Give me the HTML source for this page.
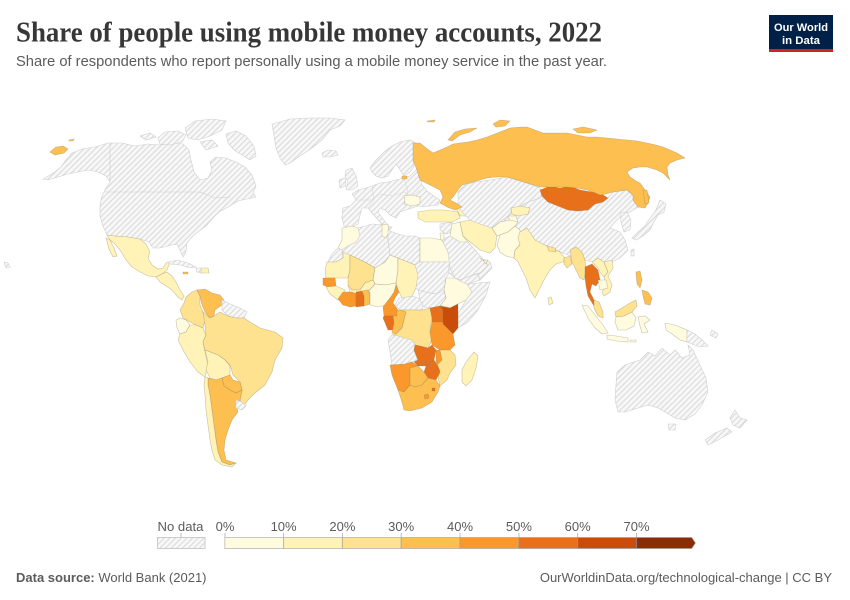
<!DOCTYPE html>
<html><head><meta charset="utf-8"><style>
html,body{margin:0;padding:0;background:#fff;width:850px;height:600px;overflow:hidden}
svg{display:block}
text{font-family:"Liberation Sans",sans-serif}
.nd{fill:url(#h);stroke:#cfcfcf;stroke-width:.6}
.c{stroke:#8a7a60;stroke-opacity:.45;stroke-width:.6}
.c0{fill:#fffbdf}.c1{fill:#fff3b8}.c2{fill:#fee28f}.c3{fill:#fdbf4f}.c4{fill:#fb982b}.c5{fill:#e8701a}.c6{fill:#c94c08}.c7{fill:#8b2c05}
</style></head><body>
<svg width="850" height="600" viewBox="0 0 850 600" xmlns="http://www.w3.org/2000/svg">
<defs>
<pattern id="h" width="4" height="4" patternUnits="userSpaceOnUse" patternTransform="rotate(45)">
<rect width="4" height="4" fill="#f8f8f8"/><line x1="0.5" y1="0" x2="0.5" y2="4" stroke="#dcdcdc" stroke-width="1.4"/>
</pattern>
</defs>
<rect width="850" height="600" fill="#fff"/>

<!-- Header -->
<text x="16" y="41.5" textLength="586" lengthAdjust="spacingAndGlyphs" style="font-family:'Liberation Serif',serif;font-size:28px;font-weight:bold;fill:#373737">Share of people using mobile money accounts, 2022</text>
<text x="16" y="66" textLength="591" lengthAdjust="spacingAndGlyphs" style="font-size:14.5px;fill:#5b5b5b">Share of respondents who report personally using a mobile money service in the past year.</text>
<rect x="769" y="15" width="64" height="37" fill="#002147"/>
<rect x="769" y="49" width="64" height="3" fill="#ce261e"/>
<text x="801" y="31" text-anchor="middle" style="font-size:11px;fill:#fff;font-weight:bold" textLength="54" lengthAdjust="spacingAndGlyphs">Our World</text>
<text x="801" y="44" text-anchor="middle" style="font-size:11px;fill:#fff;font-weight:bold" textLength="38" lengthAdjust="spacingAndGlyphs">in Data</text>

<!-- ===== MAP ===== -->
<!-- North America -->
<polygon class="nd" points="43,179 52,174 60,168 66,160 72,153 82,149 95,147 108,143 122,143 135,146 148,144 160,145 172,143 183,144 189,150 191,160 194,172 200,180 208,178 212,170 210,162 216,157 226,158 236,162 245,167 252,175 256,186 253,193 256,197 247,199 238,201 228,207 219,212 212,219 206,226 199,231 192,237 187,243 186,252 183,257 180,250 177,244 168,246 160,248 153,248 149,242 140,239 128,237 115,236 107,235 103,226 100,216 100,205 102,196 106,188 110,182 106,176 98,172 88,170 78,172 68,174 58,177 48,180"/>
<polyline points="104,192 200,192 215,198 230,197" fill="none" stroke="#cfcfcf" stroke-width=".6"/>
<polyline points="110,143 110,182" fill="none" stroke="#cfcfcf" stroke-width=".6"/>
<polygon class="nd" points="158,138 165,132 178,131 186,135 182,142 170,145 160,144"/>
<polygon class="nd" points="185,128 195,121 212,119 226,121 222,130 210,136 198,140 188,138"/>
<polygon class="nd" points="226,134 236,131 246,136 254,146 256,156 250,160 242,155 234,150 228,143"/>
<polygon class="nd" points="200,142 212,140 218,146 206,150"/>
<polygon class="nd" points="140,136 150,133 156,137 146,140"/>
<!-- Greenland / Iceland -->
<polygon class="nd" points="272,124 290,119 310,118 330,118 345,120 340,126 330,130 322,140 312,148 300,156 290,163 285,165 280,158 276,148 274,136"/>
<polygon class="nd" points="322,153 328,150 336,151 338,155 330,157 323,157"/>
<!-- Chukotka on left -->
<polygon class="c c3" points="50,152 56,147 63,146 68,149 64,153 55,155"/>
<polygon class="c c3" points="69,140 74,139 73,141 69,141"/>
<!-- Hawaii -->
<polygon class="nd" points="4,262 8,263 10,267 6,268"/>
<!-- Mexico & Central America -->
<polygon class="c c1" points="107,235 115,236 128,237 140,239 146,244 150,252 148,258 152,265 158,269 163,268 166,263 170,262 167,270 162,274 156,277 148,276 140,272 132,267 126,260 120,250 114,243 110,240"/>
<polygon class="c c1" points="106,238 110,240 114,248 117,256 113,257 109,249"/>
<polygon class="c c1" points="156,277 162,274 167,272 172,276 176,282 180,290 184,296 182,300 178,297 172,290 166,286 160,282"/>
<!-- Caribbean -->
<polygon class="nd" points="168,262 178,260 188,263 196,267 190,268 180,265 170,264"/>
<polygon class="c c1" points="201,268 208,268 209,273 201,273"/>
<polygon class="nd" points="196,268 201,268 201,273 197,272"/>
<polygon class="c c3" points="183,272 188,272 188,274 183,274"/>
<!-- South America -->
<polygon class="c c2" points="186,297 192,292 197,290 200,296 200,305 203,312 205,320 203,328 196,325 190,322 183,318 180,310 184,303"/>
<polygon class="c c3" points="197,290 205,289 212,293 220,295 224,300 222,305 215,310 214,316 210,318 205,312 202,305 200,296"/>
<polygon class="nd" points="222,300 230,304 238,307 247,312 244,318 236,318 228,316 222,310 222,305"/>
<polygon class="c c0" points="176,320 180,318 186,320 190,325 186,332 180,334 177,328"/>
<polygon class="c c1" points="186,332 190,325 196,325 203,328 206,335 203,342 205,352 208,365 205,377 198,372 190,362 183,350 178,340 180,334"/>
<polygon class="c c2" points="203,312 210,318 214,316 220,312 228,316 236,318 244,318 250,322 260,328 275,332 283,338 282,348 275,360 272,372 265,385 255,393 248,400 244,406 240,400 242,390 240,382 233,375 230,365 225,360 218,355 210,352 205,350 203,342 206,335 205,325"/>
<polygon class="c c1" points="205,350 210,352 218,355 225,360 230,366 230,375 222,378 216,380 210,378 206,370 208,362"/>
<polygon class="c c3" points="222,378 230,375 233,380 240,382 242,390 236,393 230,390 224,386"/>
<polygon class="c c3" points="208,378 216,380 222,378 224,386 230,390 236,393 242,390 240,400 236,405 238,412 232,420 228,430 225,440 224,450 226,460 236,463 230,465 222,462 218,452 216,440 214,425 212,410 210,395 208,385"/>
<polygon class="c c1" points="205,377 208,378 208,385 210,395 212,410 214,425 216,440 218,452 222,462 230,465 236,463 232,467 222,465 215,460 212,450 210,440 208,425 206,410 205,395 204,385"/>
<polygon class="nd" points="236,400 242,402 246,406 242,410 236,408"/>

<!-- Europe -->
<polygon class="nd" points="343,208 350,206 356,200 352,194 358,190 366,188 372,186 380,183 388,182 396,180 404,178 410,176 416,170 418,165 420,175 422,185 428,192 435,197 440,200 438,205 430,206 424,207 418,206 412,208 406,210 400,212 396,218 390,215 385,210 380,208 378,212 384,220 388,226 385,228 380,222 372,213 368,208 362,208 360,215 358,224 350,228 344,226 342,218"/>
<polyline points="356,200 372,200 380,194 392,196 404,192 412,196 420,190" fill="none" stroke="#d4d4d4" stroke-width=".5"/>
<polyline points="372,186 374,200 368,208 M390,182 392,198" fill="none" stroke="#d4d4d4" stroke-width=".5"/>
<polyline points="404,178 408,192 404,205 M360,208 356,200" fill="none" stroke="#d4d4d4" stroke-width=".5"/>
<polygon class="nd" points="370,168 376,160 384,152 392,146 400,142 410,140 416,143 416,150 413,158 414,166 410,172 404,176 400,170 396,164 392,170 388,176 382,178 376,176 372,172"/>
<polygon class="nd" points="346,170 352,168 356,176 358,186 352,190 346,190 348,182 345,176"/>
<polygon class="nd" points="339,180 345,178 346,186 340,188"/>
<polygon class="c c0" points="404,196 412,195 420,197 420,204 412,206 405,204"/>
<polygon class="c c3" points="402,176 407,176 407,179 402,179"/>
<polygon class="nd" points="384,226 392,227 390,230"/>

<!-- Africa -->
<polygon class="c c0" points="342,228 352,226 358,228 360,236 356,242 348,246 342,250 338,248 342,240 342,233"/>
<polygon class="nd" points="338,248 342,250 343,258 336,262 328,262 332,254"/>
<polygon class="c c1" points="327,262 336,262 343,258 343,252 350,255 350,270 348,278 335,278 326,278 325,270"/>
<polygon class="nd" points="358,228 372,224 384,225 388,230 388,240 390,255 385,262 375,268 365,262 350,255 343,252 342,250 348,246 356,242 360,236"/>
<polygon class="c c0" points="382,225 388,224 389,232 386,238 382,236"/>
<polygon class="nd" points="388,230 395,233 405,236 415,236 420,238 420,262 415,265 408,262 398,258 390,255 388,240"/>
<polygon class="c c0" points="420,238 432,238 442,240 448,252 450,262 420,262"/>
<polygon class="c c2" points="350,255 365,262 375,268 373,280 365,283 360,290 352,290 348,285 348,278 350,270"/>
<polygon class="c c0" points="375,268 385,262 390,255 398,258 398,270 396,283 385,285 375,284 373,280"/>
<polygon class="c c1" points="398,258 408,262 415,265 418,275 416,288 412,296 402,298 398,290 396,283 398,270"/>
<polygon class="nd" points="420,262 450,262 452,268 446,278 444,290 436,294 425,292 418,290 416,288 418,275 415,265"/>
<polygon class="nd" points="450,262 456,272 462,280 455,278 448,272"/>
<polygon class="c c4" points="323,278 335,278 336,286 328,287 323,285"/>
<polygon class="c c1" points="326,287 336,286 345,290 345,296 338,300 330,294"/>
<polygon class="c c1" points="348,285 352,290 360,290 365,283 373,280 375,284 368,292 358,294 350,292"/>
<polygon class="c c4" points="343,292 352,292 356,294 356,306 350,307 343,305 338,299"/>
<polygon class="c c5" points="356,292 362,291 364,296 364,306 356,307"/>
<polygon class="c c3" points="362,291 368,290 370,292 370,304 364,306 364,296"/>
<polygon class="c c0" points="368,292 375,284 385,285 396,283 396,292 390,298 386,305 378,307 370,305 370,292"/>
<polygon class="c c4" points="396,285 399,292 395,298 393,303 398,310 397,316 384,316 383,307 386,303 390,298 394,292"/>
<polygon class="nd" points="399,298 402,298 412,296 418,298 424,302 422,310 410,310 400,310 395,305"/>
<polygon class="nd" points="418,290 425,292 436,294 444,290 446,298 440,306 432,308 424,307 420,300"/>
<polygon class="c c0" points="446,278 455,278 462,280 467,284 472,292 466,300 458,304 450,308 444,306 440,306 446,298 444,290"/>
<polygon class="nd" points="467,284 490,282 486,295 478,310 468,322 458,328 458,314 466,300 472,292"/>
<polygon class="c c5" points="384,316 393,316 394,322 394,330 388,330 386,325 383,318"/>
<polygon class="c c3" points="397,310 400,310 406,312 404,320 402,328 396,334 392,333 394,322 393,316 397,316"/>
<polygon class="c c2" points="400,310 410,310 422,310 430,308 432,318 430,328 432,340 428,348 420,346 415,345 412,340 404,338 398,336 392,335 396,334 402,328 404,320 406,312"/>
<polygon class="c c5" points="430,308 440,306 443,310 443,322 432,322 432,318"/>
<polygon class="c c6" points="440,306 450,308 458,304 458,314 458,328 453,334 443,324 443,310"/>
<polygon class="c c4" points="432,322 443,322 443,324 453,334 455,345 450,350 440,350 432,345 430,332"/>
<polygon class="nd" points="392,335 398,336 404,338 412,340 415,345 414,350 418,360 412,362 405,364 392,365 390,352 388,340"/>
<polygon class="c c5" points="415,345 420,346 428,348 432,345 436,350 434,360 426,366 418,366 414,362 418,360 414,350"/>
<polygon class="c c4" points="436,350 440,350 442,360 440,368 436,362"/>
<polygon class="c c2" points="440,350 450,350 455,355 456,365 450,373 447,380 440,386 438,378 440,370 436,366 442,360"/>
<polygon class="c c5" points="426,366 434,360 438,366 440,372 436,380 428,378 424,372"/>
<polygon class="c c4" points="390,365 405,364 412,362 418,366 410,368 410,385 404,392 398,390 392,375"/>
<polygon class="c c3" points="410,368 418,366 424,372 428,378 422,385 415,387 410,385"/>
<polygon class="c c3" points="398,390 404,392 410,385 415,387 422,385 428,378 436,380 440,386 438,392 432,402 422,408 410,411 404,410 402,402"/>
<polygon class="c c4" points="424,395 428,394 429,398 425,399"/>
<polygon class="c c5" points="432,388 435,388 435,391 432,391"/>
<polygon class="c c1" points="474,352 478,356 476,368 472,380 466,386 462,382 462,370 466,362"/>

<!-- Middle East & Central Asia -->
<polygon class="nd" points="440,224 452,222 452,232 446,234 440,230"/>
<polygon class="c c1" points="418,212 430,210 445,210 458,212 460,218 452,222 438,222 425,222 418,218"/>
<polygon class="c c1" points="456,208 464,207 470,212 468,216 460,216"/>
<polygon class="c c0" points="452,224 460,222 463,236 468,242 460,242 450,236"/>
<polygon class="c c1" points="460,222 470,220 480,224 492,228 497,236 495,248 490,253 480,250 470,242 463,236"/>
<polygon class="nd" points="442,240 450,236 460,242 468,242 475,250 482,258 488,265 482,272 470,276 460,280 455,278 450,268 448,252"/>
<polygon class="nd" points="455,278 460,280 470,276 478,274 480,280 467,284 462,282"/>
<polygon class="nd" points="480,258 490,262 492,268 480,280 478,274 482,272 488,265"/>
<polygon class="c c1" points="483,260 488,260 486,264"/>
<polygon class="c c0" points="440,233 444,233 444,240 441,240"/>
<polygon class="nd" points="497,215 505,210 518,208 528,202 540,198 542,196 548,202 558,206 568,210 578,211 588,210 595,204 603,202 608,198 613,192 627,190 633,195 638,207 630,212 622,215 615,222 610,228 620,232 625,240 628,250 620,258 610,263 600,265 592,262 585,260 575,258 568,255 560,252 552,248 545,245 535,243 525,238 515,232 505,228 500,222"/>
<polygon class="nd" points="458,192 465,185 475,182 490,180 507,177 527,183 540,188 542,196 540,198 528,202 520,206 512,210 508,216 500,222 492,228 480,224 470,220 462,212 458,205"/>
<polygon class="c c1" points="511,208 520,206 530,208 528,214 518,216 512,214"/>
<polygon class="c c0" points="508,216 516,216 518,222 510,222"/>
<polygon class="c c0" points="492,228 500,222 510,220 518,222 515,226 508,232 500,235 497,236"/>
<polygon class="c c0" points="500,235 508,232 515,226 520,230 520,245 515,250 514,258 506,256 500,252 497,245"/>
<polygon class="c c1" points="520,232 527,228 535,240 545,245 552,248 560,252 565,258 563,262 556,264 550,270 545,278 540,288 535,298 530,290 526,278 522,270 518,262 514,258 515,250 520,245 518,238"/>
<polygon class="c c1" points="548,298 551,297 553,303 549,305"/>
<polygon class="c c2" points="547,246 555,248 556,252 549,251"/>
<polygon class="c c2" points="564,258 570,256 572,264 567,268 564,264"/>
<polygon class="c c2" points="570,250 576,247 582,252 585,260 586,270 584,280 580,278 576,270 572,262"/>
<polygon class="c c5" points="585,267 592,264 598,270 600,280 596,286 592,284 590,292 594,300 598,307 594,306 588,296 586,286 585,278"/>
<polygon class="c c1" points="592,262 598,258 604,262 608,272 604,277 600,272 598,268"/>
<polygon class="c c1" points="604,262 612,260 613,268 608,276 612,285 610,292 604,296 602,292 606,286 604,277 608,272"/>
<polygon class="c c0" points="598,280 606,280 608,288 600,290"/>
<polygon class="c c2" points="594,300 599,302 603,312 603,318 598,316 594,308"/>
<polygon class="c c0" points="582,305 588,306 595,315 603,325 608,333 602,334 595,328 588,318"/>
<polygon class="c c0" points="607,335 616,336 628,338 628,342 616,341 607,339"/>
<polygon class="c c0" points="630,340 636,340 636,342 630,342"/>
<polygon class="c c2" points="615,312 622,308 630,303 636,300 637,306 632,312 624,316 616,317"/>
<polygon class="c c0" points="616,317 624,316 632,312 636,318 634,326 626,330 618,330 615,322"/>
<polygon class="c c0" points="638,317 645,316 650,320 644,324 648,332 642,333 640,326"/>
<polygon class="c c3" points="636,272 640,271 642,280 640,288 637,284"/>
<polygon class="c c3" points="642,290 648,292 652,298 650,305 645,304 643,296"/>
<polygon class="c c0" points="665,323 675,325 687,330 687,342 680,340 672,334 666,330"/>
<polygon class="nd" points="687,330 695,334 702,340 708,346 700,347 692,344 687,342"/>
<polygon class="nd" points="620,213 627,212 631,220 630,230 624,232 621,222"/>
<polygon class="nd" points="660,200 666,204 664,212 658,215 654,222 650,230 643,236 636,240 632,238 638,232 645,226 650,218 655,212 658,205"/>
<polygon class="nd" points="631,250 634,249 634,256 631,256"/>
<polygon class="c c5" points="540,190 550,186 560,188 570,186 580,190 592,192 600,193 608,198 603,202 595,204 588,210 578,211 568,210 558,206 548,202 542,196"/>
<!-- Russia -->
<polygon class="c c3" points="413,143 420,143 426,148 433,153 440,150 447,147 453,144 460,143 468,142 477,140 487,137 500,132 510,128 520,127 527,127 535,130 543,133 555,133 567,133 577,135 587,137 597,137 607,138 617,139 627,140 637,141 647,143 656,145 663,147 670,150 677,153 685,158 677,160 670,163 667,167 668,175 670,180 663,173 657,170 647,167 640,167 633,168 627,172 630,177 636,181 640,183 645,190 650,197 648,203 645,208 638,207 633,200 633,195 627,190 620,191 613,192 606,194 600,195 593,192 587,190 577,188 567,187 557,187 550,187 540,187 527,183 517,180 507,177 497,177 487,178 480,180 473,182 466,184 462,185 458,190 453,197 450,200 456,203 462,207 455,210 447,207 440,203 443,197 440,190 430,185 420,180 417,170 413,160"/>
<polygon class="c c3" points="448,140 455,132 465,129 477,128 470,132 460,135 452,141"/>
<polygon class="c c3" points="493,124 500,120 510,121 505,126 496,127"/>
<polygon class="c c3" points="573,129 583,127 597,130 590,133 578,133"/>
<polygon class="c c3" points="427,121 435,120 434,122 428,122"/>
<polygon class="c c3" points="643,190 647,190 649,203 645,204"/>

<!-- Australia & NZ -->
<polygon class="nd" points="617,372 625,365 640,360 648,352 655,356 662,348 670,355 675,350 682,358 690,355 688,345 693,350 700,365 706,378 708,392 702,405 695,414 685,420 675,418 665,412 658,408 648,405 638,408 625,412 618,412 615,400 616,385"/>
<polygon class="nd" points="668,424 676,424 675,430 669,430"/>
<polygon class="nd" points="735,410 740,418 747,420 740,428 733,425 730,418"/>
<polygon class="nd" points="727,428 732,432 718,440 708,445 705,440 715,433"/>
<polygon class="nd" points="712,330 718,334 716,338 710,335"/>

<!-- ===== Legend ===== -->
<g style="font-size:13px;fill:#5b5b5b">
<text x="157.5" y="531" textLength="46" lengthAdjust="spacingAndGlyphs">No data</text>
<text x="225" y="531" text-anchor="middle">0%</text>
<text x="283.6" y="531" text-anchor="middle">10%</text>
<text x="342.4" y="531" text-anchor="middle">20%</text>
<text x="401.2" y="531" text-anchor="middle">30%</text>
<text x="460" y="531" text-anchor="middle">40%</text>
<text x="518.9" y="531" text-anchor="middle">50%</text>
<text x="577.7" y="531" text-anchor="middle">60%</text>
<text x="636.5" y="531" text-anchor="middle">70%</text>
</g>
<g stroke="#bbb" stroke-width="1">
<line x1="181" y1="533" x2="181" y2="537"/>
<line x1="225" y1="533" x2="225" y2="537"/>
<line x1="283.6" y1="533" x2="283.6" y2="537"/>
<line x1="342.4" y1="533" x2="342.4" y2="537"/>
<line x1="401.2" y1="533" x2="401.2" y2="537"/>
<line x1="460" y1="533" x2="460" y2="537"/>
<line x1="518.9" y1="533" x2="518.9" y2="537"/>
<line x1="577.7" y1="533" x2="577.7" y2="537"/>
<line x1="636.5" y1="533" x2="636.5" y2="537"/>
</g>
<rect x="157.5" y="537.5" width="47.5" height="11" fill="url(#h)" stroke="#ccc" stroke-width="1"/>
<g stroke="#999" stroke-opacity=".55" stroke-width="1">
<rect x="224.8" y="537.5" width="58.8" height="11" fill="#fffbdf"/>
<rect x="283.6" y="537.5" width="58.8" height="11" fill="#fff3b8"/>
<rect x="342.4" y="537.5" width="58.8" height="11" fill="#fee28f"/>
<rect x="401.2" y="537.5" width="58.8" height="11" fill="#fdbf4f"/>
<rect x="460" y="537.5" width="58.9" height="11" fill="#fb982b"/>
<rect x="518.9" y="537.5" width="58.8" height="11" fill="#e8701a"/>
<rect x="577.7" y="537.5" width="58.8" height="11" fill="#c94c08"/>
<polygon points="636.5,537.5 691.7,537.5 695.4,543 691.7,548.5 636.5,548.5" fill="#8b2c05"/>
</g>

<!-- Footer -->
<text x="16" y="582" style="font-size:13px;fill:#5b5b5b"><tspan style="font-weight:bold">Data source:</tspan> World Bank (2021)</text>
<text x="832" y="582" text-anchor="end" style="font-size:13px;fill:#5b5b5b">OurWorldinData.org/technological-change | CC BY</text>
</svg>
</body></html>
